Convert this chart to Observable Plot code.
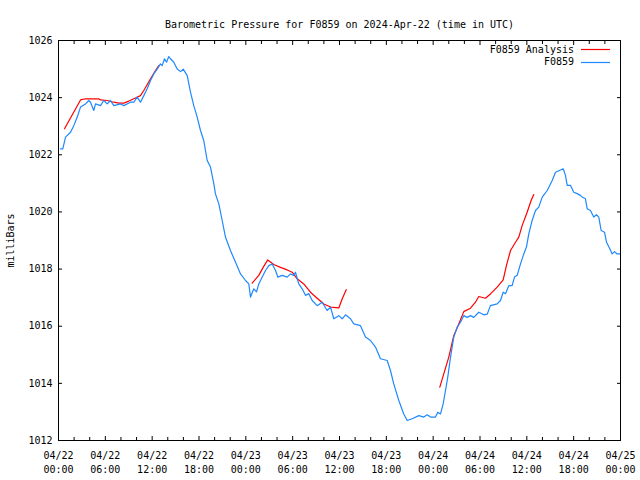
<!DOCTYPE html>
<html><head><meta charset="utf-8">
<script src="https://cdn.jsdelivr.net/npm/d3@7"></script>
<script src="https://cdn.jsdelivr.net/npm/@observablehq/plot@0.6"></script>
<style>
body{margin:0;background:#fff;}
#wrap{position:relative;width:640px;height:480px;font-family:"DejaVu Sans Mono",monospace;font-size:10px;color:#000;}
#legend{position:absolute;left:0;top:0;pointer-events:none;}
</style></head><body><div id="wrap"></div>
<script>
const titleText = "Barometric Pressure for F0859 on 2024-Apr-22 (time in UTC)";
const yLabel = "milliBars";
const seriesNames = ["F0859 Analysis", "F0859"];
const seriesColors = ["#ff0000", "#1e88ff"];
const startDate = Date.UTC(2024, 3, 22, 0, 0);
const spanHours = 72;
const yTicks = [1012, 1014, 1016, 1018, 1020, 1022, 1024, 1026];

// F0859 observations: hours since 2024-04-22 00:00 UTC
const obsHours = [0.26,0.55,0.90,1.54,1.96,2.40,2.82,3.46,3.88,4.10,4.52,4.74,5.38,5.80,6.24,6.66,7.08,7.94,8.37,9.22,9.65,10.08,10.50,10.93,11.36,11.79,12.21,12.64,13.06,13.28,13.58,13.84,14.13,14.35,14.77,15.21,15.63,15.98,16.49,16.91,17.33,17.77,18.19,18.61,19.05,19.47,19.90,20.11,20.54,20.97,21.39,22.03,22.68,23.32,23.96,24.38,24.60,25.02,25.37,25.66,26.10,26.52,26.94,27.38,27.80,28.10,28.66,29.30,29.72,30.14,30.36,30.78,31.22,31.64,32.07,32.50,33.14,33.78,34.42,34.85,35.27,35.91,36.35,36.77,37.41,37.83,38.69,39.33,39.97,40.61,41.25,42.11,42.53,42.95,43.60,44.23,44.67,45.31,46.16,46.80,47.23,47.66,48.30,48.59,48.94,49.28,49.58,49.87,50.22,50.64,51.08,51.50,51.92,52.36,52.78,53.20,53.84,54.49,54.92,55.34,56.20,56.62,56.97,57.26,57.69,58.12,58.42,58.76,59.19,59.61,59.95,60.25,60.68,61.11,61.53,61.97,62.61,63.25,63.67,64.31,64.66,64.95,65.17,65.59,66.01,66.45,66.87,67.09,67.51,67.73,68.15,68.57,68.92,69.22,69.52,69.95,70.21,70.63,70.93,71.23,71.57,71.91];
const obsPressure = [1022.21,1022.21,1022.62,1022.79,1023.02,1023.32,1023.67,1023.78,1023.90,1023.84,1023.55,1023.78,1023.72,1023.90,1023.78,1023.90,1023.72,1023.78,1023.72,1023.84,1023.84,1024.02,1023.84,1024.07,1024.31,1024.60,1024.83,1025.00,1025.18,1025.12,1025.36,1025.24,1025.44,1025.36,1025.24,1025.00,1024.91,1025.00,1024.77,1024.19,1023.72,1023.32,1022.85,1022.50,1021.80,1021.57,1020.98,1020.63,1020.28,1019.70,1019.12,1018.65,1018.24,1017.83,1017.60,1017.48,1017.02,1017.31,1017.20,1017.48,1017.72,1017.95,1018.12,1018.18,1017.95,1017.72,1017.78,1017.72,1017.83,1017.78,1017.89,1017.48,1017.31,1017.08,1017.14,1016.90,1016.72,1016.84,1016.55,1016.67,1016.26,1016.37,1016.26,1016.40,1016.26,1016.08,1016.02,1015.62,1015.50,1015.27,1014.86,1014.80,1014.45,1013.98,1013.40,1012.93,1012.70,1012.76,1012.87,1012.82,1012.90,1012.82,1012.82,1012.99,1012.93,1013.28,1013.75,1014.22,1014.91,1015.62,1015.97,1016.14,1016.37,1016.31,1016.37,1016.31,1016.49,1016.40,1016.42,1016.72,1016.78,1016.90,1017.19,1017.14,1017.42,1017.42,1017.72,1017.78,1018.18,1018.53,1018.77,1019.23,1019.70,1020.05,1020.17,1020.52,1020.75,1021.10,1021.39,1021.47,1021.51,1021.28,1020.93,1020.93,1020.69,1020.64,1020.58,1020.52,1020.46,1020.11,1020.05,1019.82,1019.90,1019.82,1019.35,1019.29,1018.94,1018.71,1018.53,1018.61,1018.53,1018.53];

// F0859 Analysis: three runs
const anaRun = [1,1,1,1,1,1,1,1,1,1,1,1,1,1,1,1, 2,2,2,2,2,2,2,2,2,2,2,2,2,2,2,2,2, 3,3,3,3,3,3,3,3,3,3,3,3,3,3,3,3,3,3,3,3,3];
const anaHours = [0.77,2.82,3.46,5.16,5.38,6.24,7.08,7.72,8.37,9.01,9.65,10.50,10.93,11.79,12.43,12.85,
  24.81,25.66,26.22,26.81,27.58,28.44,29.30,29.94,30.58,31.42,32.28,33.14,33.99,34.85,35.91,36.35,36.86,
  48.85,49.36,50.00,50.64,51.28,51.92,52.78,53.42,53.84,54.70,55.34,56.20,56.97,57.39,57.91,58.55,58.97,59.40,60.04,60.55,60.89];
const anaPressure = [1022.91,1023.92,1023.96,1023.96,1023.92,1023.90,1023.84,1023.81,1023.81,1023.88,1023.96,1024.07,1024.25,1024.66,1024.95,1025.12,
  1017.51,1017.78,1018.06,1018.32,1018.16,1018.06,1017.97,1017.89,1017.66,1017.48,1017.19,1016.98,1016.78,1016.67,1016.64,1016.96,1017.28,
  1013.87,1014.33,1014.92,1015.67,1016.08,1016.51,1016.63,1016.84,1017.04,1016.98,1017.13,1017.37,1017.62,1018.13,1018.65,1018.94,1019.12,1019.52,1019.99,1020.40,1020.61];

const toDate = h => new Date(startDate + h * 3600e3);
const obs = obsHours.map((h, i) => ({t: toDate(h), p: obsPressure[i]}));
const ana = anaHours.map((h, i) => ({t: toDate(h), p: anaPressure[i], run: anaRun[i]}));

const x0 = new Date(startDate), x1 = toDate(spanHours);
const majorTicks = d3.utcHour.every(6).range(x0, new Date(+x1 + 1));
const minorTicks = d3.utcHour.every(2).range(x0, new Date(+x1 + 1)).filter(d => d.getUTCHours() % 6 !== 0);
const fmt = d3.utcFormat("%m/%d\n%H:%M");

const chart = Plot.plot({
  width: 640, height: 480,
  marginTop: 40, marginBottom: 40, marginLeft: 58, marginRight: 20,
  style: {fontFamily: "'DejaVu Sans Mono', monospace", fontSize: "10px", background: "#fff", color: "#000"},
  x: {type: "utc", domain: [x0, x1]},
  y: {domain: [1012, 1026]},
  marks: [
    Plot.axisY({anchor: "left", ticks: yTicks, tickSize: 0, tickPadding: 6, tickFormat: d => String(d),
      label: yLabel, labelAnchor: "center", labelArrow: "none", labelOffset: 52}),
    Plot.axisY({anchor: "left", ticks: yTicks, tickSize: -4, text: null, label: null}),
    Plot.axisY({anchor: "right", ticks: yTicks, tickSize: -4, text: null, label: null}),
    Plot.axisX({anchor: "bottom", ticks: majorTicks, tickSize: 0, tickPadding: 9, tickFormat: fmt, lineHeight: 1.4, label: null}),
    Plot.axisX({anchor: "bottom", ticks: majorTicks, tickSize: -4, text: null, label: null}),
    Plot.axisX({anchor: "bottom", ticks: minorTicks, tickSize: -3, text: null, label: null}),
    Plot.axisX({anchor: "top", ticks: majorTicks, tickSize: -4, text: null, label: null}),
    Plot.axisX({anchor: "top", ticks: minorTicks, tickSize: -3, text: null, label: null}),
    Plot.line(ana, {x: "t", y: "p", z: "run", stroke: seriesColors[0], strokeWidth: 1.2}),
    Plot.line(obs, {x: "t", y: "p", stroke: seriesColors[1], strokeWidth: 1.2}),
    Plot.frame({stroke: "#000", strokeWidth: 1}),
    Plot.text([titleText], {frameAnchor: "top", dy: -20, fontSize: 10})
  ]
});

const wrap = document.getElementById("wrap");
wrap.appendChild(chart);
// legend (top right, inside plot)
const rowY = [49, 61.5];
const leg = d3.select(wrap).append("svg").attr("id", "legend").attr("width", 640).attr("height", 80);
seriesNames.forEach((name, i) => {
  leg.append("text").attr("x", 574).attr("y", rowY[i]).attr("text-anchor", "end")
    .attr("dominant-baseline", "central").attr("font-family", "'DejaVu Sans Mono', monospace")
    .attr("font-size", 10).attr("fill", "#000").text(name);
  leg.append("line").attr("x1", 581).attr("x2", 610).attr("y1", Math.round(rowY[i]) + 0.5).attr("y2", Math.round(rowY[i]) + 0.5)
    .attr("stroke", seriesColors[i]).attr("stroke-width", 1.2);
});
</script>
</body></html>
